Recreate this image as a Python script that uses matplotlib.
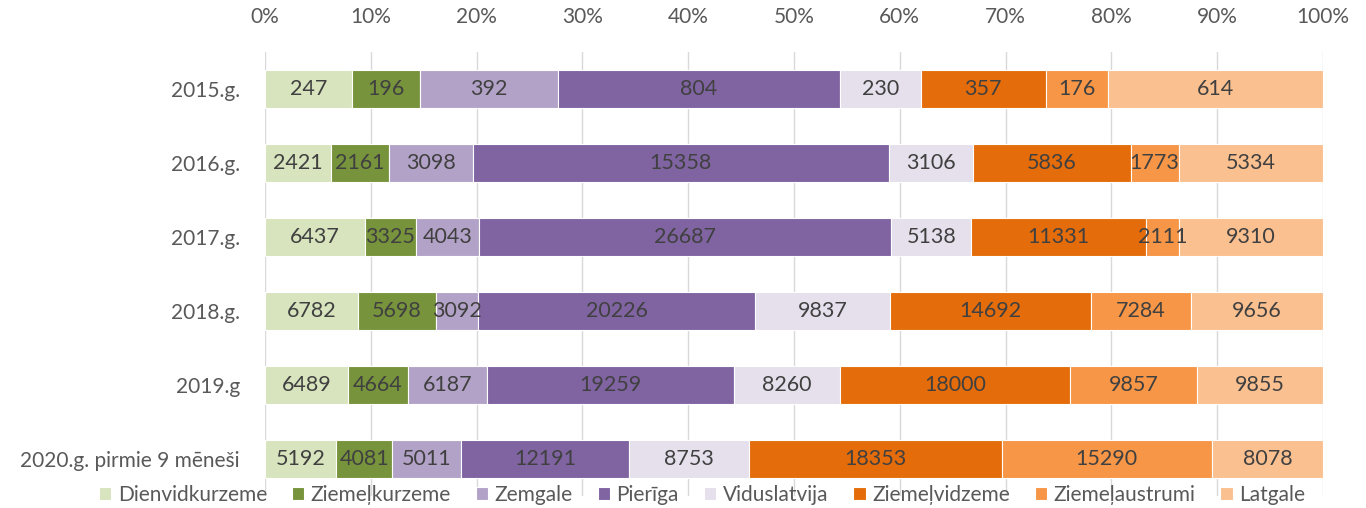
import matplotlib
matplotlib.use("Agg")
import matplotlib.pyplot as plt
import numpy as np

plt.rcParams["font.family"] = ["Lato", "DejaVu Sans"]

years = ["2015.g.", "2016.g.", "2017.g.", "2018.g.", "2019.g",
         "2020.g. pirmie 9 mēneši"]
regions = ["Dienvidkurzeme", "Ziemeļkurzeme", "Zemgale", "Pierīga",
           "Viduslatvija", "Ziemeļvidzeme", "Ziemeļaustrumi", "Latgale"]
colors = ["#D7E4BD", "#77933C", "#B3A2C7", "#8064A2",
          "#E6E0EC", "#E46C0A", "#F79646", "#FAC090"]

dienvidkurzeme = [247, 2421, 6437, 6782, 6489, 5192]
ziemelkurzeme = [196, 2161, 3325, 5698, 4664, 4081]
zemgale = [392, 3098, 4043, 3092, 6187, 5011]
pieriga = [804, 15358, 26687, 20226, 19259, 12191]
viduslatvija = [230, 3106, 5138, 9837, 8260, 8753]
ziemelvidzeme = [357, 5836, 11331, 14692, 18000, 18353]
ziemelaustrumi = [176, 1773, 2111, 7284, 9857, 15290]
latgale = [614, 5334, 9310, 9656, 9855, 8078]

values = np.array([dienvidkurzeme, ziemelkurzeme, zemgale, pieriga,
                   viduslatvija, ziemelvidzeme, ziemelaustrumi, latgale],
                  dtype=float)
shares = values / values.sum(axis=0) * 100

fig = plt.figure(figsize=(13.66, 5.08), dpi=100)
ax = fig.add_axes([265 / 1366, 1 - 496 / 508, 1058 / 1366, 444 / 508])

y = np.arange(len(years))
left = np.zeros(len(years))
for i, name in enumerate(regions):
    ax.barh(y, shares[i], left=left, height=0.52, color=colors[i],
            edgecolor="white", linewidth=0.8, label=name, zorder=2)
    for j in range(len(years)):
        ax.text(left[j] + shares[i][j] / 2, y[j], f"{int(values[i][j])}",
                ha="center", va="center", fontsize=15.5, color="#404040",
                zorder=3)
    left += shares[i]

ax.set_xlim(0, 100)
ax.set_ylim(len(years) - 0.5, -0.5)
ax.set_xticks(np.arange(0, 101, 10))
ax.set_xticklabels([f"{v}%" for v in range(0, 101, 10)])
ax.xaxis.tick_top()
ax.tick_params(axis="x", length=0, pad=18, labelsize=15, labelcolor="#595959")
ax.set_yticks(y)
ax.set_yticklabels(years)
ax.tick_params(axis="y", length=0, pad=18, labelsize=15, labelcolor="#595959")
ax.grid(axis="x", color="#D9D9D9", linewidth=1, zorder=0)
for s in ax.spines.values():
    s.set_visible(False)

fig.legend(loc="center", bbox_to_anchor=(702 / 1366, 1 - 495 / 508),
           ncol=8, frameon=False, fontsize=15, handlelength=0.6,
           handleheight=0.6, handletextpad=0.3, columnspacing=1.2,
           labelcolor="#595959")

fig.savefig("out.png", dpi=100)
